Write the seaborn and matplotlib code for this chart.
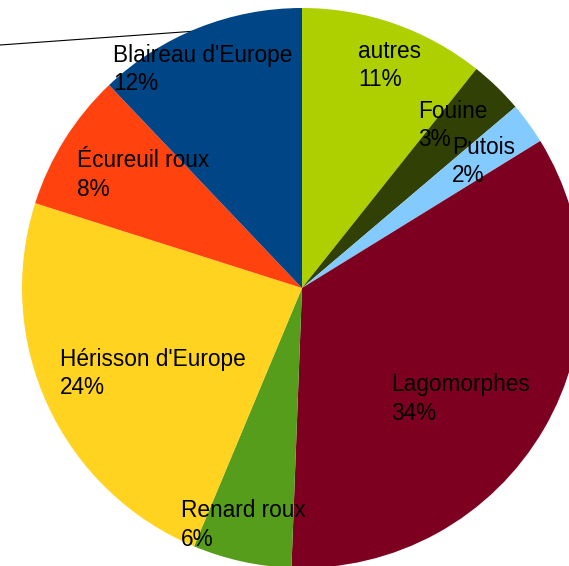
import matplotlib
matplotlib.use('Agg')
import matplotlib.pyplot as plt
import seaborn as sns

# Data (share of prey, %)
species = ['autres', 'Fouine', 'Putois', 'Lagomorphes', 'Renard roux',
           "Hérisson d'Europe", 'Écureuil roux', "Blaireau d'Europe"]
shares = [10.7, 3.1, 2.4, 34.4, 5.7, 23.6, 8.0, 12.1]
colors = ['#aecf00', '#314004', '#83caff', '#7e0021', '#579d1c',
          '#ffd320', '#ff420e', '#004586']

# label anchors in pixel coords (left x, baseline of first line)
label_pos = [(358, 58), (418, 118), (452, 154), (391, 391),
             (181, 517), (60, 366), (77, 167), (113, 62)]

sns.set_theme(style='white')
plt.rcParams['font.family'] = ['Liberation Sans', 'DejaVu Sans']

W, H = 569, 566
fig = plt.figure(figsize=(W / 100, H / 100), dpi=100)
ax = fig.add_axes([0, 0, 1, 1])

ax.pie(shares, colors=sns.color_palette(colors), startangle=90, counterclock=False,
       radius=280, center=(302, -288), frame=False,
       wedgeprops=dict(linewidth=0, antialiased=True))

# thin leader line disappearing behind the pie
ax.plot([0, 260], [-45, -26.5], color='black', lw=0.8, zorder=0)

total = sum(shares)
for name, val, (x, y) in zip(species, shares, label_pos):
    ax.text(x, -y, name, fontsize=16.3, color='black', ha='left', va='baseline')
    ax.text(x, -y - 28.5, f'{round(val / total * 100)}%', fontsize=16.3,
            color='black', ha='left', va='baseline')

ax.set_xlim(0, W)
ax.set_ylim(-H, 0)
ax.set_aspect('equal')
ax.axis('off')

fig.savefig('out.png', dpi=100)
